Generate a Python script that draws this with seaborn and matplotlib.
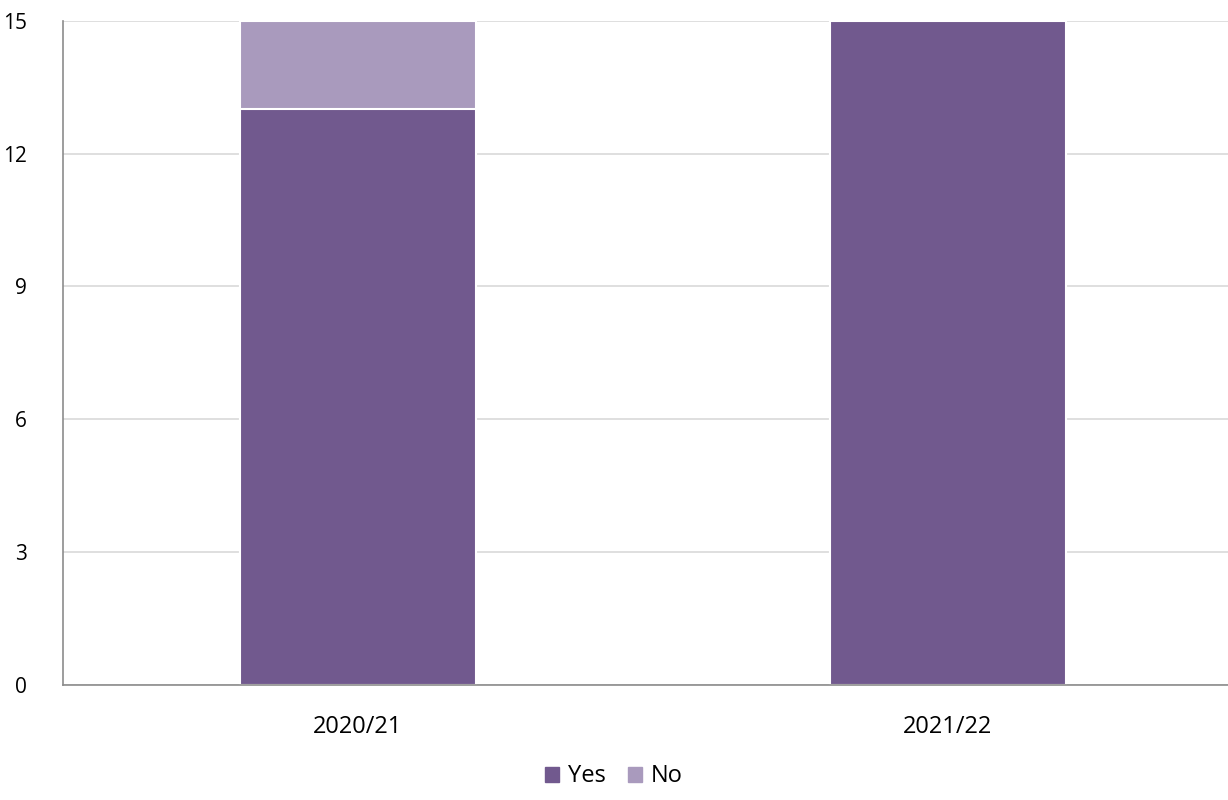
import pandas as pd
import matplotlib.pyplot as plt
import seaborn as sns
from matplotlib.patches import Patch

# Chart data
seasons = ['2020/21', '2021/22']
yes_counts = [13, 15]
no_counts = [2, 0]

yes_color = '#71598e'
no_color = '#a99abd'

df = pd.DataFrame({'season': seasons, 'Yes': yes_counts, 'No': no_counts})
df['total'] = df['Yes'] + df['No']

sns.set_style('white')
plt.rcParams['font.family'] = ['Open Sans', 'DejaVu Sans']
plt.rcParams['text.color'] = 'black'
plt.rcParams['xtick.color'] = 'black'
plt.rcParams['ytick.color'] = 'black'

fig = plt.figure(figsize=(12.28, 8), dpi=100)
ax = fig.add_axes([0.0513, 0.144, 0.9487, 0.83])

# Stacked bars: draw the total in the "No" colour, then "Yes" on top of it
sns.barplot(data=df, x='season', y='total', color=no_color, width=0.4,
            edgecolor='white', linewidth=1.5, saturation=1, ax=ax)
sns.barplot(data=df, x='season', y='Yes', color=yes_color, width=0.4,
            edgecolor='white', linewidth=1.5, saturation=1, ax=ax)

ax.set_ylim(0, 15)
ax.set_yticks([0, 3, 6, 9, 12, 15])
ax.set_xlim(-0.5, 1.475)
ax.yaxis.grid(True, color='#d9d9d9', linewidth=1.2)
ax.set_axisbelow(True)
ax.set_xlabel('')
ax.set_ylabel('')

for side in ['top', 'right']:
    ax.spines[side].set_visible(False)
ax.spines['left'].set_color('#8c8c8c')
ax.spines['bottom'].set_color('#8c8c8c')
ax.spines['left'].set_linewidth(1.2)
ax.spines['bottom'].set_linewidth(1.2)

ax.tick_params(axis='y', labelsize=15, length=0, pad=26)
ax.tick_params(axis='x', labelsize=17, length=0, pad=22)

handles = [Patch(color=yes_color, label='Yes'), Patch(color=no_color, label='No')]
fig.legend(handles=handles, loc='lower center', ncol=2, frameon=False,
           fontsize=17, bbox_to_anchor=(0.5, -0.012), handlelength=0.6,
           handleheight=0.6, handletextpad=0.4, columnspacing=0.9)

fig.savefig('out.png', dpi=100)
